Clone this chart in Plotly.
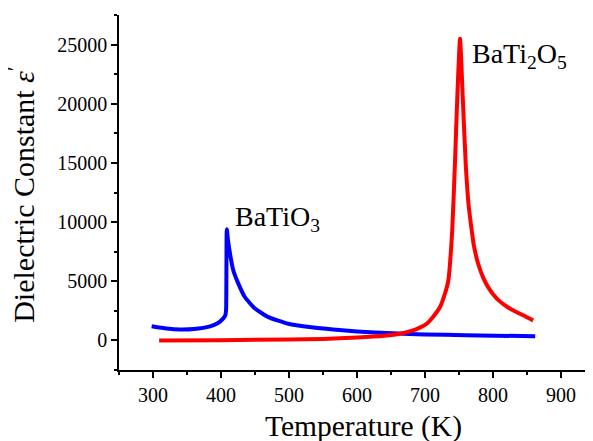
import plotly.graph_objects as go

# BaTiO3 (blue)
bto_T = [298, 320, 340, 360, 384, 395, 403, 406.5, 407.5, 408.5, 410, 413.2, 418, 425.5, 435, 450, 469.6, 499, 533, 565, 600, 653, 700, 760, 862]
bto_eps = [1190, 1000, 920, 960, 1190, 1450, 1840, 2150, 2600, 9400, 8600, 7340, 5930, 4800, 3670, 2690, 1970, 1410, 1110, 920, 760, 600, 510, 440, 350]

# BaTi2O5 (red)
bt2_T = [309, 400, 500, 550, 600, 640, 663, 680, 693, 702.5, 712, 722, 729, 734.3, 740, 744, 747.5, 751.5, 755.4, 759.8, 764, 768.6, 772, 778, 786, 793, 800, 810, 820, 832, 845, 859]
bt2_eps = [0, 20, 80, 130, 250, 400, 560, 800, 1100, 1410, 2000, 2820, 3900, 5080, 9320, 14970, 20620, 25500, 20620, 14970, 11500, 9320, 7960, 6500, 5240, 4480, 3910, 3300, 2870, 2470, 2100, 1680]

x_ticks = [300, 400, 500, 600, 700, 800, 900]
y_ticks = [0, 5000, 10000, 15000, 20000, 25000]

FONT = "Liberation Serif"

fig = go.Figure()
fig.add_trace(go.Scatter(x=bto_T, y=bto_eps, mode="lines",
                         line=dict(color="#0000FF", width=4, shape="spline", smoothing=0.5),
                         showlegend=False))
fig.add_trace(go.Scatter(x=bt2_T, y=bt2_eps, mode="lines",
                         line=dict(color="#FF0000", width=4, shape="spline", smoothing=0.5),
                         showlegend=False))

axis_common = dict(ticks="outside", ticklen=6, tickwidth=1.5, tickcolor="black",
                   showline=True, linecolor="black", linewidth=1.5,
                   showgrid=False, zeroline=False, tickfont=dict(size=20, family=FONT))

fig.update_layout(
    width=585, height=433,
    margin=dict(l=111, r=0, t=7, b=71),
    plot_bgcolor="white", paper_bgcolor="white",
    font=dict(family=FONT, color="black"),
    xaxis=dict(range=[250, 947], tickvals=x_ticks, ticktext=[str(v) for v in x_ticks],
               minor=dict(dtick=50, tick0=250, ticks="outside", ticklen=3, tickwidth=1.5,
                          tickcolor="black", showgrid=False),
               **axis_common),
    yaxis=dict(range=[-2500, 27500], tickvals=y_ticks, ticktext=[str(v) for v in y_ticks],
               minor=dict(dtick=2500, tick0=0, ticks="outside", ticklen=3, tickwidth=1.5,
                          tickcolor="black", showgrid=False),
               **axis_common),
    annotations=[
        dict(text="Temperature (K)", xref="paper", yref="paper", x=0.515, y=0, yshift=-38,
             xanchor="center", yanchor="top", showarrow=False, font=dict(size=29.5, family=FONT)),
        dict(text="Dielectric Constant <i>ε</i><sup>′</sup>", xref="paper", yref="paper",
             x=-0.205, y=0.493, textangle=-90, xanchor="center", yanchor="middle",
             showarrow=False, font=dict(size=30, family=FONT)),
        dict(text="BaTiO<sub>3</sub>", x=418, y=10340, xref="x", yref="y", xanchor="left",
             yanchor="middle", showarrow=False, font=dict(size=28, family=FONT)),
        dict(text="BaTi<sub>2</sub>O<sub>5</sub>", x=766, y=24070, xref="x", yref="y", xanchor="left",
             yanchor="middle", showarrow=False, font=dict(size=28, family=FONT)),
    ],
)

fig.write_html("out.html")
